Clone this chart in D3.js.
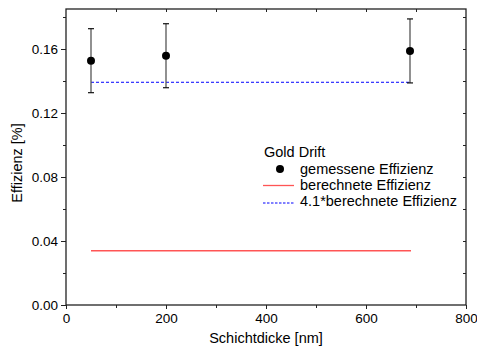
<!DOCTYPE html>
<html><head><meta charset="utf-8">
<script src="https://cdn.jsdelivr.net/npm/d3@7"></script>
<style>body{margin:0;background:#fff;} text{font-family:"Liberation Sans",Arial,sans-serif;}</style>
</head><body>
<svg id="c" width="477" height="351"></svg>
<script>
const thickness = [50, 200, 688];
const measured = [0.1527, 0.1558, 0.1588];
const errors = [0.02, 0.02, 0.02];
const calcX = [50, 690];
const calcY = [0.0339, 0.0339];
const scaledY = [0.1392, 0.1392];
const xTicks = [0, 200, 400, 600, 800];
const yTicks = [0.00, 0.04, 0.08, 0.12, 0.16];
const legendTitle = "Gold Drift";
const legendLabels = ["gemessene Effizienz", "berechnete Effizienz", "4.1*berechnete Effizienz"];

const svg = d3.select("#c");
const L = 66, R = 466, T = 9, B = 305;
const x = d3.scaleLinear().domain([0, 800]).range([L, R]);
const y = d3.scaleLinear().domain([0, 0.185]).range([B, T]);

const axCol = "#222";
svg.append("rect").attr("x", L).attr("y", T).attr("width", R - L).attr("height", B - T)
  .attr("fill", "none").attr("stroke", axCol).attr("stroke-width", 1.3);

const gx = svg.append("g").attr("transform", `translate(0,${B})`)
  .call(d3.axisBottom(x).tickValues(xTicks).tickSize(4).tickPadding(4).tickFormat(d3.format("d")));
gx.select(".domain").remove();
gx.selectAll("text").attr("font-size", 13.5).attr("fill", "#000");
svg.append("g").attr("transform", `translate(0,${B})`)
  .call(d3.axisBottom(x).tickValues([100, 300, 500, 700]).tickSize(3).tickFormat(""))
  .select(".domain").remove();
svg.append("g").attr("transform", `translate(0,${T})`)
  .call(d3.axisBottom(x).tickValues(d3.range(100, 800, 100)).tickSize(3).tickFormat(""))
  .select(".domain").remove();

const gy = svg.append("g").attr("transform", `translate(${L},0)`)
  .call(d3.axisLeft(y).tickValues(yTicks).tickSize(5).tickPadding(3).tickFormat(d3.format(".2f")));
gy.select(".domain").remove();
gy.selectAll("text").attr("font-size", 13.5).attr("fill", "#000");
svg.append("g").attr("transform", `translate(${L},0)`)
  .call(d3.axisLeft(y).tickValues([0.02, 0.06, 0.10, 0.14, 0.18]).tickSize(3).tickFormat(""))
  .select(".domain").remove();
svg.append("g").attr("transform", `translate(${R},0)`)
  .call(d3.axisLeft(y).tickValues(d3.range(0.02, 0.181, 0.02)).tickSize(3).tickFormat(""))
  .select(".domain").remove();
svg.selectAll(".tick line").attr("stroke", axCol);

svg.append("text").attr("x", (L + R) / 2).attr("y", 343).attr("text-anchor", "middle")
  .attr("font-size", 14.5).attr("fill", "#000").text("Schichtdicke [nm]");
svg.append("text").attr("transform", `translate(22,163) rotate(-90)`)
  .attr("text-anchor", "middle").attr("font-size", 14.5).attr("fill", "#000").text("Effizienz [%]");

const line = d3.line().x(d => x(d[0])).y(d => y(d[1]));
svg.append("path").attr("d", line(calcX.map((v, i) => [v, calcY[i]])))
  .attr("stroke", "#ff5555").attr("stroke-width", 1.3).attr("fill", "none");
svg.append("path").attr("d", line(calcX.map((v, i) => [v, scaledY[i]])))
  .attr("stroke", "#0000ff").attr("stroke-width", 1).attr("stroke-dasharray", "3,2").attr("fill", "none");

const pts = thickness.map((t, i) => ({t, v: measured[i], e: errors[i]}));
const eb = svg.append("g");
pts.forEach(p => {
  eb.append("line").attr("x1", x(p.t)).attr("x2", x(p.t)).attr("y1", y(p.v - p.e)).attr("y2", y(p.v + p.e))
    .attr("stroke", "#555").attr("stroke-width", 1.3);
  [p.v - p.e, p.v + p.e].forEach(v => eb.append("line").attr("x1", x(p.t) - 3).attr("x2", x(p.t) + 3)
    .attr("y1", y(v)).attr("y2", y(v)).attr("stroke", "#111").attr("stroke-width", 1.2));
});
svg.append("g").selectAll("circle").data(pts).join("circle")
  .attr("cx", d => x(d.t)).attr("cy", d => y(d.v)).attr("r", 4).attr("fill", "#000");

const lg = svg.append("g").attr("font-size", 14.5).attr("fill", "#000");
lg.append("text").attr("x", 264).attr("y", 157).text(legendTitle);
const ly = [174, 190, 206];
lg.append("circle").attr("cx", 280).attr("cy", ly[0] - 5).attr("r", 4).attr("fill", "#000");
lg.append("line").attr("x1", 263).attr("x2", 294).attr("y1", ly[1] - 4.5).attr("y2", ly[1] - 4.5)
  .attr("stroke", "#ff5555").attr("stroke-width", 1.3);
lg.append("line").attr("x1", 263).attr("x2", 294).attr("y1", ly[2] - 3).attr("y2", ly[2] - 3)
  .attr("stroke", "#0000ff").attr("stroke-width", 1).attr("stroke-dasharray", "2.5,1.5");
legendLabels.forEach((t, i) => lg.append("text").attr("x", 300).attr("y", ly[i]).text(t));
</script>
</body></html>
